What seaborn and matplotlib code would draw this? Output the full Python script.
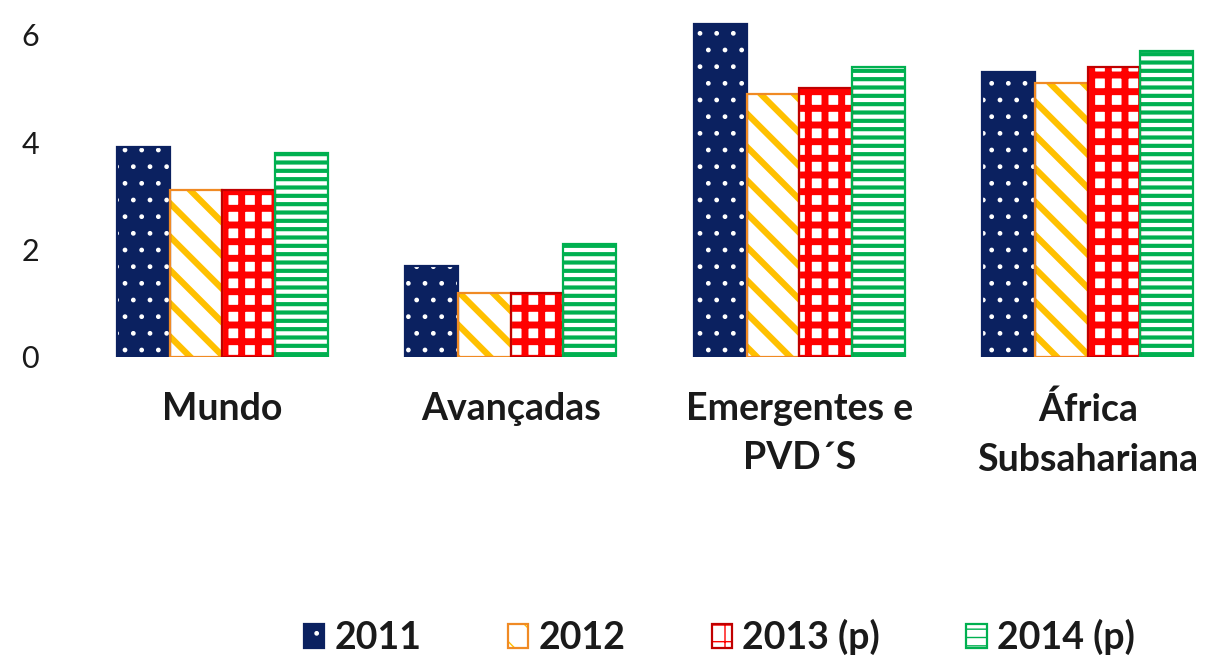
import numpy as np
import pandas as pd
import matplotlib
matplotlib.use("Agg")
import matplotlib.pyplot as plt
import seaborn as sns
from matplotlib.patches import Patch, Rectangle
from matplotlib.legend_handler import HandlerTuple

categories = ["Mundo", "Avançadas", "Emergentes e\nPVD´S", "África\nSubsahariana"]
series = ["2011", "2012", "2013 (p)", "2014 (p)"]
v2011 = [3.9, 1.7, 6.2, 5.3]
v2012 = [3.1, 1.2, 4.9, 5.1]
v2013 = [3.1, 1.2, 5.0, 5.4]
v2014 = [3.8, 2.1, 5.4, 5.7]
yticks = [0, 2, 4, 6]

# face, hatch colour, hatch, border colour, hatch linewidth
styles = [
    ("#0b2160", "white", ".", "#0b2160", 1.0),
    ("white", "#ffc000", "\\", "#f08a24", 4.5),
    ("white", "#ff0000", "+", "#c00000", 5.0),
    ("white", "#00b050", "--", "#00b050", 3.0),
]

sns.set_theme(style="white")
plt.rcParams["font.family"] = ["Lato", "DejaVu Sans"]

df = pd.DataFrame({
    "cat": categories * 4,
    "serie": sum([[s] * 4 for s in series], []),
    "val": v2011 + v2012 + v2013 + v2014,
})

fig = plt.figure(figsize=(12.13, 6.57), dpi=100)
ax = fig.add_axes([78 / 1213, (657 - 357) / 657, 1 - 78 / 1213, (357 - 20) / 657])

sns.barplot(data=df, x="cat", y="val", hue="serie", order=categories,
            hue_order=series, width=0.73, legend=False, ax=ax, saturation=1)


def style_patch(p, st):
    face, hc, h, edge, hlw = st
    p.set_facecolor(face)
    p.set_edgecolor(hc)
    p.set_hatch(h)
    p.set_linewidth(0)
    if hasattr(p, "set_hatch_linewidth"):
        p.set_hatch_linewidth(hlw)


for cont, st in zip(ax.containers, styles):
    for bar in cont:
        style_patch(bar, st)
        ax.add_patch(Rectangle((bar.get_x(), bar.get_y()), bar.get_width(), bar.get_height(),
                               fill=False, edgecolor=st[3], linewidth=1.6, zorder=bar.get_zorder() + 0.1))

ax.set_xlim(-0.5, 3.434)
ax.set_ylim(0, 6.27)
ax.set_yticks(yticks)
ax.set_yticklabels([str(t) for t in yticks], fontsize=22, color="#1a1a1a")
ax.tick_params(axis="y", length=0, pad=28)
ax.tick_params(axis="x", length=0, pad=25)
for lab in ax.get_xticklabels():
    lab.set_fontsize(27)
    lab.set_fontweight("bold")
    lab.set_color("#1a1a1a")
    lab.set_linespacing(1.55)
ax.set_xlabel("")
ax.set_ylabel("")
for s in ax.spines.values():
    s.set_visible(False)
ax.grid(False)

handles = []
for st in styles:
    face, hc, h, edge, hlw = st
    p1 = Patch(facecolor=face, edgecolor=hc, hatch=h, linewidth=0)
    if hasattr(p1, "set_hatch_linewidth"):
        p1.set_hatch_linewidth(hlw * 0.6)
    p2 = Patch(fill=False, edgecolor=edge, linewidth=1.6)
    handles.append((p1, p2))

leg = fig.legend(handles, series, loc="center", bbox_to_anchor=(0.593, 0.03), ncol=4,
                 frameon=False, handler_map={tuple: HandlerTuple(ndivide=1, pad=0)},
                 prop={"size": 27, "weight": "bold"}, handlelength=0.55, handleheight=0.62,
                 handletextpad=0.27, columnspacing=2.3)
for t in leg.get_texts():
    t.set_color("#1a1a1a")

fig.savefig("out.png", dpi=100)
